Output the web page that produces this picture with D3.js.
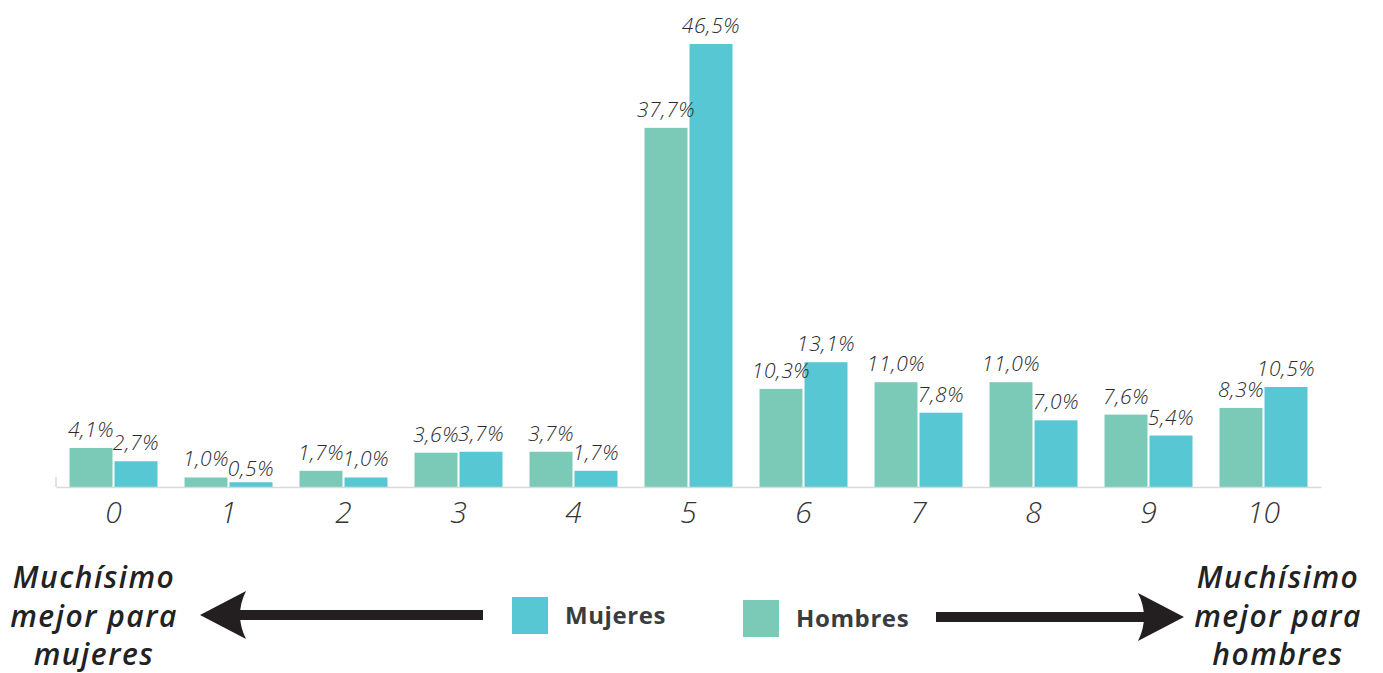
<html>
<meta charset="utf-8" />
<head>
<title>Mujeres / Hombres</title>
<style>
body { margin: 0; background: #fff; }
svg { display: block; }
svg text { font-family: "Open Sans", sans-serif; }
.val { font-size: 21px; font-style: italic; font-weight: 300; fill: #2b2b2b; text-anchor: middle; letter-spacing: 0.6px; }
.cat text { font-size: 30px; font-style: italic; fill: #333; font-weight: 300; }
.side { font-size: 30px; font-style: italic; font-weight: 600; fill: #222; text-anchor: middle; letter-spacing: 1.5px; }
.leg { font-size: 24px; font-weight: 700; fill: #3a3d40; letter-spacing: 0.6px; }
</style>
<script src="https://d3js.org/d3.v7.min.js" charset="utf-8"></script>
</head>
<body>
<svg class="chart"></svg>
<script>
var chartWidth = 1383;
var chartHeight = 673;

/********
 * Data *
 ********/
var categories = ["0","1","2","3","4","5","6","7","8","9","10"];
var series = ["Hombres","Mujeres"];
var hombres = [4.1, 1.0, 1.7, 3.6, 3.7, 37.7, 10.3, 11.0, 11.0, 7.6, 8.3];
var mujeres = [2.7, 0.5, 1.0, 3.7, 1.7, 46.5, 13.1, 7.8, 7.0, 5.4, 10.5];
var legendOrder = ["Mujeres","Hombres"];
var sideLeft = ["Muchísimo","mejor para","mujeres"];
var sideRight = ["Muchísimo","mejor para","hombres"];

var colors = { "Hombres": "#7bcab7", "Mujeres": "#57c7d4" };

var rows = categories.map(function(c, i){
  return { cat: c, values: [
    { key: "Hombres", v: hombres[i] },
    { key: "Mujeres", v: mujeres[i] }
  ]};
});

/**********
 * Scales *
 **********/
var x = d3.scaleBand()
    .domain(categories)
    .range([56, 1321])
    .paddingInner(0.235)
    .paddingOuter(0.1175);

var x1 = d3.scaleBand()
    .domain(series)
    .range([0, x.bandwidth()])
    .paddingInner(0.045);

var y = d3.scaleLinear()
    .domain([0, 46.5])
    .range([487, 44]);

var fmt = function(v){ return d3.format(".1f")(v).replace(".", ",") + "%"; };

var svg = d3.select(".chart")
    .attr("width", chartWidth)
    .attr("height", chartHeight);

/********
 * Bars *
 ********/
var groups = svg.selectAll(".grp")
    .data(rows)
  .enter().append("g")
    .attr("class", "grp")
    .attr("transform", function(d){ return "translate(" + x(d.cat) + ",0)"; });

groups.selectAll("rect")
    .data(function(d){ return d.values; })
  .enter().append("rect")
    .attr("x", function(d){ return x1(d.key); })
    .attr("width", x1.bandwidth())
    .attr("y", function(d){ return y(d.v); })
    .attr("height", function(d){ return y(0) - y(d.v); })
    .attr("fill", function(d){ return colors[d.key]; });

// labels sit ~11px above the bar, the tiny ones a bit closer
groups.selectAll(".val")
    .data(function(d){ return d.values; })
  .enter().append("text")
    .attr("class", "val")
    .attr("x", function(d){ return x1(d.key) + x1.bandwidth()/2; })
    .attr("y", function(d){ return d.v < 1 ? y(d.v) - 6 : y(d.v) - 11; })
    .text(function(d){ return fmt(d.v); });

/********
 * Axis *
 ********/
var xAxis = d3.axisBottom(x).tickSize(0).tickSizeOuter(0).tickPadding(15);
var ax = svg.append("g")
    .attr("class", "cat")
    .attr("transform", "translate(0," + y(0) + ")")
    .call(xAxis);
ax.select(".domain").attr("stroke", "#d9d9d9").attr("stroke-width", 1.5);
ax.selectAll("text").attr("dy", "0.71em");
ax.append("line")
    .attr("x1", 56).attr("x2", 56)
    .attr("y1", -10).attr("y2", 0)
    .attr("stroke", "#d9d9d9").attr("stroke-width", 1.5);

/**********
 * Arrows *
 **********/
function arrow(x0, x1, yy, dir){
  var tip = x1, back = x1 - dir * 46, notch = x1 - dir * 36;
  svg.append("line")
      .attr("x1", x0).attr("x2", notch)
      .attr("y1", yy).attr("y2", yy)
      .attr("stroke", "#231f20").attr("stroke-width", 10);
  svg.append("path")
      .attr("d", "M" + tip + "," + yy +
                 "L" + back + "," + (yy - 24) +
                 "Q" + (notch + dir * 2) + "," + yy + " " + back + "," + (yy + 24) + "Z")
      .attr("fill", "#231f20");
}
arrow(483, 200, 615, -1);
arrow(936, 1184, 617, 1);

function side(lines, cx){
  svg.append("g").selectAll("text")
      .data(lines)
    .enter().append("text")
      .attr("class", "side")
      .attr("x", cx)
      .attr("y", function(d, i){ return 588 + i * 38.5; })
      .text(function(d){ return d; });
}
side(sideLeft, 94);
side(sideRight, 1278);

/**********
 * Legend *
 **********/
var legX = { "Mujeres": 512, "Hombres": 743 };
var legY = { "Mujeres": 597, "Hombres": 600 };
var leg = svg.selectAll(".legend")
    .data(legendOrder)
  .enter().append("g")
    .attr("class", "legend")
    .attr("transform", function(d){ return "translate(" + legX[d] + "," + legY[d] + ")"; });

leg.append("rect")
    .attr("width", 36)
    .attr("height", 37)
    .attr("fill", function(d){ return colors[d]; });

leg.append("text")
    .attr("class", "leg")
    .attr("x", 53)
    .attr("y", 27)
    .text(function(d){ return d; });
</script>
</body>
</html>
